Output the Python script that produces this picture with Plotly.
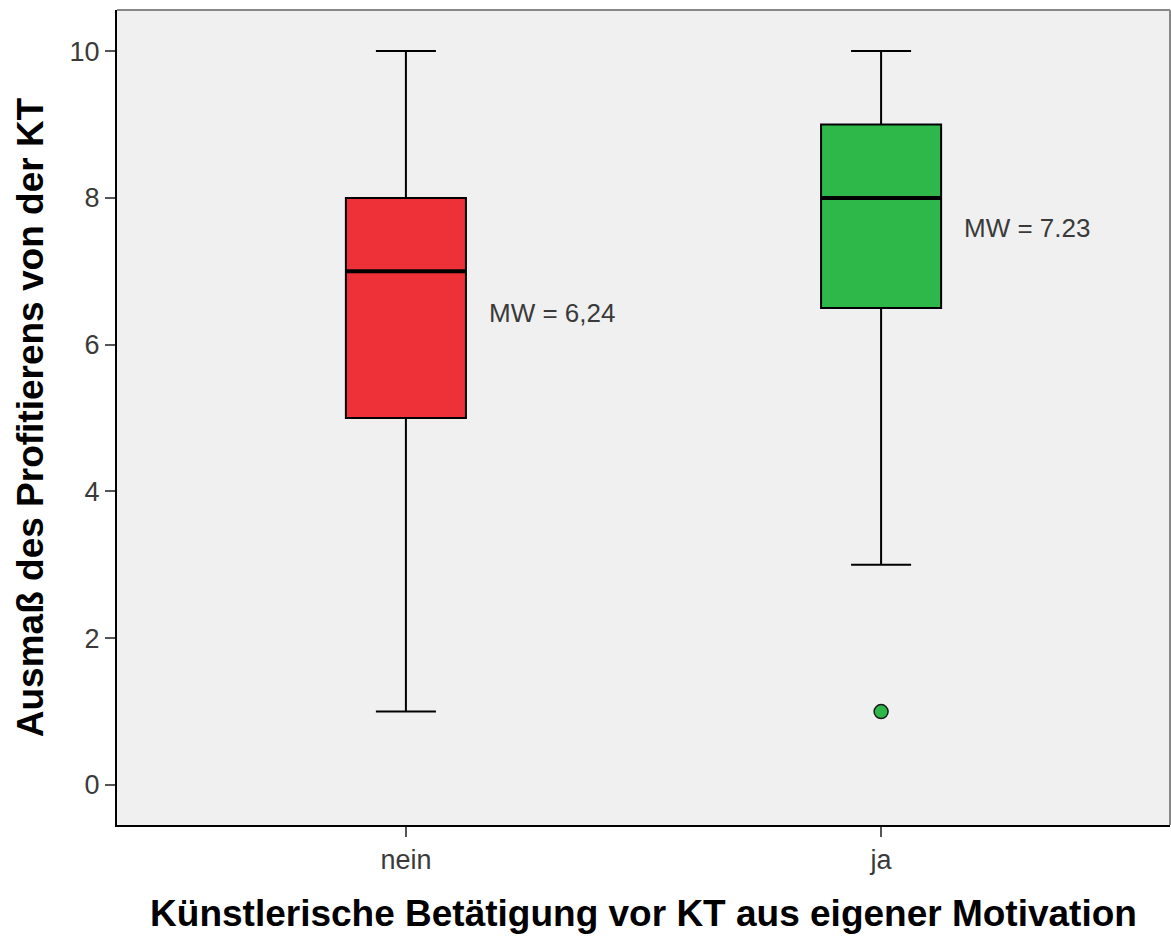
import plotly.graph_objects as go

categories = ["nein", "ja"]
q1 = [5, 6.5]
median = [7, 8]
q3 = [8, 9]
lower = [1, 3]
upper = [10, 10]
outlier_cat = ["ja"]
outlier_val = [1]
means_text = ["MW = 6,24", "MW = 7.23"]
mean_label_y = [6.43, 7.59]
colors = ["#EE3038", "#2EB84A"]

xpos = {c: i for i, c in enumerate(categories)}
BW = 0.2526
FONT = "Liberation Sans, Arial"

fig = go.Figure()
for i, c in enumerate(categories):
    fig.add_trace(go.Box(
        x=[xpos[c]], q1=[q1[i]], median=[median[i]], q3=[q3[i]],
        lowerfence=[lower[i]], upperfence=[upper[i]],
        fillcolor=colors[i], line=dict(color="black", width=2),
        width=BW, whiskerwidth=0.5, boxpoints=False, showlegend=False,
        hoverinfo="skip"))
    fig.add_trace(go.Scatter(
        x=[xpos[c] - BW / 2, xpos[c] + BW / 2], y=[median[i], median[i]],
        mode="lines", line=dict(color="black", width=4), showlegend=False,
        hoverinfo="skip"))
    fig.add_annotation(x=xpos[c] + 0.17, y=mean_label_y[i], text=means_text[i],
                       xanchor="left", yanchor="middle", showarrow=False,
                       font=dict(family=FONT, size=26, color="#3a3a3a"))

fig.add_trace(go.Scatter(
    x=[xpos[c] for c in outlier_cat], y=outlier_val, mode="markers",
    marker=dict(color=colors[1], size=14, line=dict(color="#1a1a1a", width=1.5)),
    showlegend=False, hoverinfo="skip"))

fig.add_shape(type="line", xref="paper", yref="paper", x0=0, x1=1, y0=1, y1=1,
              line=dict(color="#888888", width=2))
fig.add_shape(type="line", xref="paper", yref="paper", x0=1, x1=1, y0=0, y1=1,
              line=dict(color="#888888", width=2))

fig.update_layout(
    width=1171, height=941,
    margin=dict(l=117, r=1, t=10, b=116),
    paper_bgcolor="white", plot_bgcolor="#F0F0F0",
    font=dict(family=FONT, color="#3a3a3a"),
    xaxis=dict(
        range=[-0.608, 1.608], tickvals=[xpos[c] for c in categories], ticktext=categories,
        showgrid=False, zeroline=False, showline=True, linecolor="black", linewidth=2,
        ticks="outside", ticklen=10, tickwidth=2, tickcolor="#555555",
        tickfont=dict(size=27, color="#3a3a3a"),
        title=dict(text="Künstlerische Betätigung vor KT aus eigener Motivation",
                   font=dict(size=37, color="black", family=FONT, weight="bold"),
                   standoff=26),
    ),
    yaxis=dict(
        range=[-0.545, 10.56], tickvals=[0, 2, 4, 6, 8, 10],
        showgrid=False, zeroline=False, showline=True, linecolor="black", linewidth=2,
        ticks="outside", ticklen=10, tickwidth=2, tickcolor="#555555",
        tickfont=dict(size=27, color="#3a3a3a"),
        title=dict(text="Ausmaß des Profitierens von der KT",
                   font=dict(size=37, color="black", family=FONT, weight="bold"),
                   standoff=15),
    ),
)

fig.write_html("out.html", config={"displayModeBar": False},
               post_script="document.body.style.margin='0';document.body.style.overflow='hidden';")
